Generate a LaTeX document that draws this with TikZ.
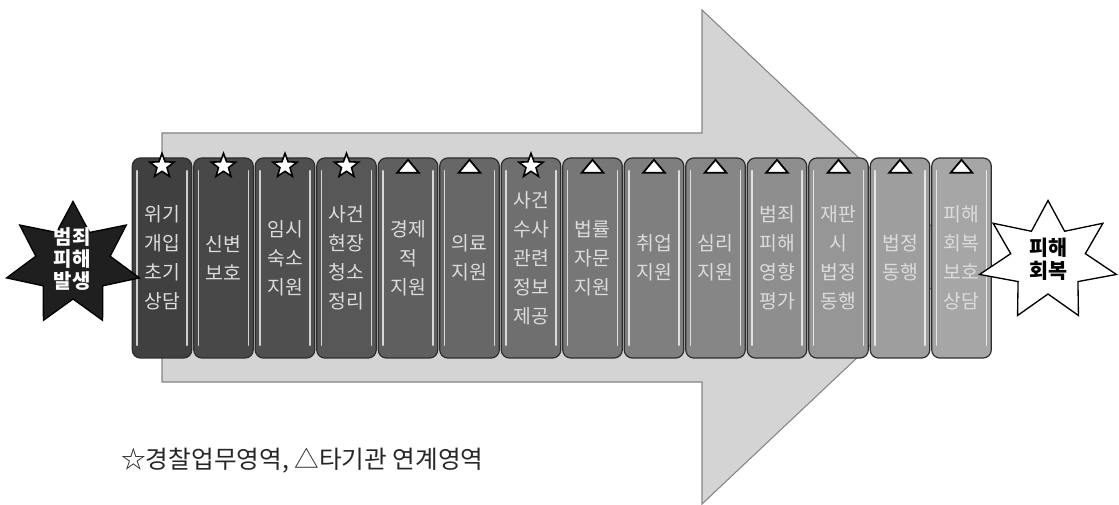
\documentclass[tikz,border=0pt]{standalone}
\usepackage{fontspec}
\newfontfamily\kr{Noto Sans CJK KR}
\usetikzlibrary{shapes.geometric}
\definecolor{arrowfill}{HTML}{D4D4D4}
\definecolor{arrowline}{HTML}{858585}
\definecolor{boxline}{HTML}{2E2E2E}
\definecolor{boxtext}{HTML}{DCDCDC}
\tikzset{
  stepbox/.style={draw=boxline, line width=0.9pt, rounded corners=6pt,
    minimum width=44.6pt, minimum height=150pt, inner sep=0pt,
    text=boxtext, align=center,
    font=\kr\fontsize{14.5}{21.75}\selectfont},
  gloss/.style={white, opacity=0.75, line width=1.1pt, line cap=round},
  starmark/.style={star, star points=5, star point ratio=2.4, draw=black,
    fill=white, line width=1.2pt, minimum size=19pt, inner sep=0pt},
  trimark/.style={draw=black, fill=white, line width=1.3pt, line join=miter},
  burst/.style={line width=1pt, line join=miter},
}
\begin{document}
\begin{tikzpicture}[x=0.75pt, y=-0.75pt]
\useasboundingbox (0,0) rectangle (1119,505);
% big arrow
\draw[fill=arrowfill, draw=arrowline, line width=0.8pt]
  (162,133) -- (702,133) -- (702,10) -- (964,257) -- (702,504)
  -- (702,382) -- (162,382) -- cycle;
% boxes
\foreach \i/\txt/\mk in {
  0/{위기\\개입\\초기\\상담}/s,
  1/{신변\\보호}/s,
  2/{임시\\숙소\\지원}/s,
  3/{사건\\현장\\청소\\정리}/s,
  4/{경제\\적\\지원}/t,
  5/{의료\\지원}/t,
  6/{사건\\수사\\관련\\정보\\제공}/s,
  7/{법률\\자문\\지원}/t,
  8/{취업\\지원}/t,
  9/{심리\\지원}/t,
  10/{범죄\\피해\\영향\\평가}/t,
  11/{재판\\시\\법정\\동행}/t,
  12/{법정\\동행}/t,
  13/{피해\\회복\\보호\\상담}/t}{
  \pgfmathsetmacro\shade{75-\i*40/13}
  \pgfmathsetmacro\bx{162+61.5*\i}
  \node[stepbox, fill=black!\shade] (b\i) at (\bx,258) {\txt};
  \draw[gloss] ([xshift=4pt,yshift=-10pt]b\i.north west) -- ([xshift=4pt,yshift=10pt]b\i.south west);
  \draw[gloss] ([xshift=-4pt,yshift=-10pt]b\i.north east) -- ([xshift=-4pt,yshift=10pt]b\i.south east);
  \if s\mk
    \node[starmark] (m\i) at ([yshift=-6.5pt]b\i.north) {};
  \else
    \coordinate (m\i) at ([yshift=-1.8pt]b\i.north);
    \draw[trimark] ([xshift=-8.2pt,yshift=-9.8pt]m\i) -- (m\i) -- ([xshift=8.2pt,yshift=-9.8pt]m\i) -- cycle;
  \fi
}
% left burst
\begin{scope}[shift={(73,264)}, xscale=1.09]
  \draw[burst, draw=black, fill=black!88]
    (0,-62.5) \foreach \k in {1,...,13}{
      -- ({cos(90+\k*360/14)*(isodd(\k)?35:62.5)}, {-sin(90+\k*360/14)*(isodd(\k)?35:62.5)}) } -- cycle;
\end{scope}
\node[text=white, align=center, font=\kr\bfseries\fontsize{15}{16.2}\selectfont] (start) at (72,259) {범죄\\피해\\발생};
% right burst
\begin{scope}[shift={(1048,261)}, xscale=1.16]
  \draw[burst, draw=black, fill=white]
    (0,-60.5) \foreach \k in {1,...,13}{
      -- ({cos(90+\k*360/14)*(isodd(\k)?33:60.5)}, {-sin(90+\k*360/14)*(isodd(\k)?33:60.5)}) } -- cycle;
\end{scope}
\node[text=black, align=center, font=\kr\bfseries\fontsize{15.5}{17.5}\selectfont] (end) at (1048,259) {피해\\회복};
% legend
\node[anchor=west, inner sep=0pt, font=\kr\fontsize{18.5}{20}\selectfont, text=black!85] (legend) at (121,461) {☆경찰업무영역, △타기관 연계영역};
\end{tikzpicture}
\end{document}
